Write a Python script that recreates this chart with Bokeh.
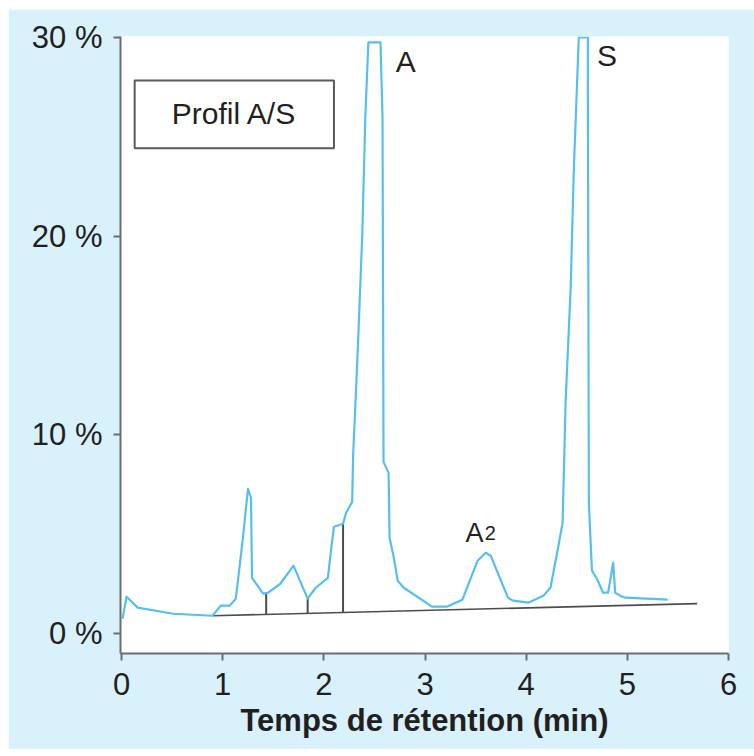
from bokeh.plotting import figure
from bokeh.models import Range1d, FixedTicker
from bokeh.core.properties import value
from bokeh.embed import file_html
from bokeh.resources import INLINE

# ---- data ----
time_min = [0.01, 0.05, 0.16, 0.51, 0.90, 0.98, 1.07, 1.13, 1.20, 1.25, 1.28, 1.29,
            1.40, 1.45, 1.57, 1.70, 1.84, 1.92, 2.04, 2.07, 2.10, 2.19, 2.22, 2.28,
            2.29, 2.33, 2.38, 2.41, 2.44, 2.56, 2.58, 2.59, 2.64, 2.65, 2.69, 2.73,
            2.79, 3.07, 3.22, 3.37, 3.52, 3.60, 3.65, 3.82, 3.87, 4.02, 4.17, 4.24,
            4.31, 4.36, 4.39, 4.44, 4.47, 4.52, 4.61, 4.61, 4.62, 4.65, 4.70, 4.76,
            4.81, 4.86, 4.88, 4.93, 4.98, 5.40]
signal_pct = [0.75, 1.86, 1.31, 1.00, 0.90, 1.41, 1.41, 1.76, 4.82, 7.29, 6.83, 2.81,
              2.01, 2.06, 2.51, 3.42, 1.76, 2.31, 2.81, 4.17, 5.38, 5.53, 6.08, 6.63,
              9.05, 13.6, 20.1, 26.0, 29.75, 29.75, 26.0, 8.64, 8.09, 4.82, 3.87, 2.66,
              2.31, 1.36, 1.36, 1.71, 3.67, 4.07, 3.92, 1.81, 1.66, 1.56, 1.91, 2.31,
              4.17, 5.58, 11.7, 17.4, 23.2, 30.0, 30.0, 27.0, 6.53, 3.17, 2.76, 2.06,
              2.06, 3.57, 2.06, 1.91, 1.81, 1.71]

baseline_x = [0.90, 5.69]
baseline_y = [0.90, 1.51]

drop_x = [1.43, 1.84, 2.19]
drop_top = [2.01, 1.76, 5.53]

x_ticks = [0, 1, 2, 3, 4, 5, 6]
y_ticks = [0, 10, 20, 30]
y_tick_labels = ["0 %", "10 %", "20 %", "30 %"]

x_title = "Temps de rétention (min)"
box_text = "Profil A/S"
peak_labels = ["A", "S"]

# ---- styles ----
BG = "#d8f1fb"
LINE = "#55c0ee"
TXT = "#231f20"
AX = "#6d6e71"
FONT = "Liberation Sans"

p = figure(width=746, height=740, output_backend="svg", toolbar_location=None,
           x_range=Range1d(-0.01, 6.0), y_range=Range1d(-1.0, 30.05),
           min_border_left=112, min_border_right=26, min_border_top=27,
           min_border_bottom=96)
try:
    p.margin = (9, 0, 0, 8)
except Exception:
    p.width = 754
    p.height = 749
    p.min_border_left = 120
    p.min_border_top = 36

p.border_fill_color = BG
p.background_fill_color = "white"
p.outline_line_color = None
p.grid.visible = False

for ax in (p.xaxis[0], p.yaxis[0]):
    ax.axis_line_color = AX
    ax.axis_line_width = 2
    ax.major_tick_line_color = AX
    ax.major_tick_line_width = 2
    ax.major_tick_out = 7
    ax.major_tick_in = 0
    ax.minor_tick_line_color = None
    ax.major_label_text_font = FONT
    ax.major_label_text_font_size = "31px"
    ax.major_label_text_color = TXT

p.xaxis.ticker = FixedTicker(ticks=x_ticks)
p.yaxis.ticker = FixedTicker(ticks=y_ticks)
p.yaxis.major_label_overrides = {t: l for t, l in zip(y_ticks, y_tick_labels)}
p.xaxis.major_label_standoff = 12
p.yaxis.major_label_standoff = 11
p.xaxis.axis_label = x_title
p.xaxis.axis_label_text_font = FONT
p.xaxis.axis_label_text_font_style = "bold"
p.xaxis.axis_label_text_font_size = "31px"
p.xaxis.axis_label_text_color = TXT
p.xaxis.axis_label_standoff = 5

# baseline and drop lines
p.line(baseline_x, baseline_y, line_color="#4d4d4f", line_width=1.6)
slope = (baseline_y[1] - baseline_y[0]) / (baseline_x[1] - baseline_x[0])
drop_bottom = [baseline_y[0] + slope * (x - baseline_x[0]) for x in drop_x]
p.segment(x0=drop_x, y0=drop_bottom, x1=drop_x, y1=drop_top,
          line_color="#4d4d4f", line_width=2)

# chromatogram
p.line(time_min, signal_pct, line_color=LINE, line_width=2.2, line_join="round")

# label box
p.quad(left=[0.13], right=[2.10], top=[27.84], bottom=[24.42],
       fill_color="white", line_color="#5a5a5c", line_width=2)
p.text(x=[1.115], y=[26.15], text=[box_text], text_font=value(FONT),
       text_font_size="30px", text_color=TXT, text_align="center",
       text_baseline="middle")

# peak labels
p.text(x=[2.71, 4.70], y=[28.8, 29.1], text=peak_labels, text_font=value(FONT),
       text_font_size="30px", text_color=TXT, text_align="left",
       text_baseline="alphabetic")
p.text(x=[3.40], y=[5.07], text=["A"], text_font=value(FONT),
       text_font_size="27px", text_color=TXT, text_align="left",
       text_baseline="alphabetic")
p.text(x=[3.59], y=[5.07], text=["2"], text_font=value(FONT),
       text_font_size="20px", text_color=TXT, text_align="left",
       text_baseline="alphabetic")

open("out.html", "w").write(file_html(p, INLINE))
